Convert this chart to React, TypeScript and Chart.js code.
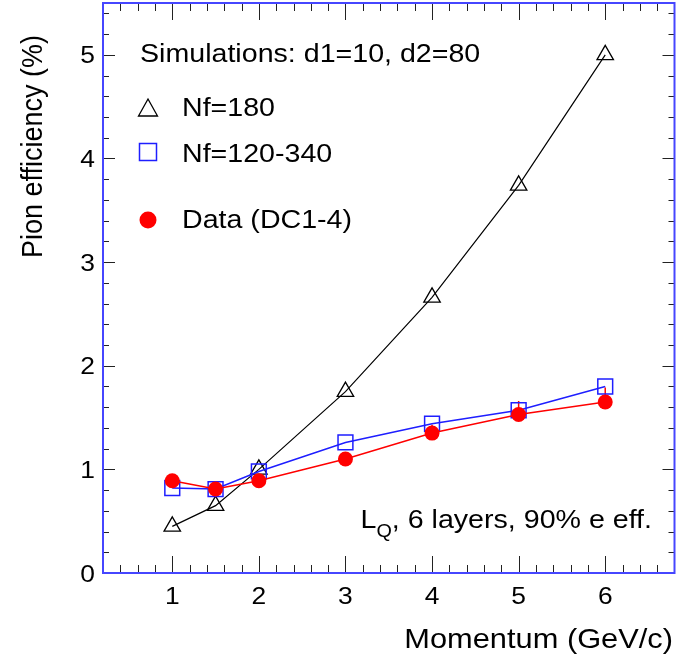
import { useEffect, useRef } from 'react';
import { Chart, registerables } from 'chart.js';

Chart.register(...registerables);

// ---- data ----
const momentum = [1, 1.5, 2, 3, 4, 5, 6];
const simNf180 = [0.45, 0.65, 1.0, 1.75, 2.66, 3.74, 5.0];
const simNf120340 = [0.82, 0.81, 0.98, 1.26, 1.44, 1.57, 1.8];
const dataDC14 = [0.89, 0.81, 0.89, 1.1, 1.35, 1.53, 1.65];
const dataDC14ErrUp = [0.03, 0.03, 0.03, 0.05, 0.08, 0.13, 0.14];
const dataDC14ErrDown = [0.03, 0.03, 0.03, 0.04, 0.05, 0.06, 0.06];

const xTickValues = [1, 2, 3, 4, 5, 6];
const xTickLabels = ['1', '2', '3', '4', '5', '6'];
const yTickValues = [0, 1, 2, 3, 4, 5];
const yTickLabels = ['0', '1', '2', '3', '4', '5'];

const seriesLabels = ['Nf=180', 'Nf=120-340', 'Data (DC1-4)'];
const headerText = 'Simulations: d1=10, d2=80';
const xTitle = 'Momentum (GeV/c)';
const yTitle = 'Pion efficiency (%)';

const FONT = '"Liberation Sans", Arial, Helvetica, sans-serif';
const SX = 1.1;
const FRAME = 'rgb(70,70,255)';
const BLUE = 'rgb(30,30,255)';
const RED = 'rgb(255,0,0)';

function txt(ctx: CanvasRenderingContext2D, s: string, x: number, y: number, size: number,
  align: CanvasTextAlign = 'left', baseline: CanvasTextBaseline = 'alphabetic', sx = SX) {
  ctx.save();
  ctx.translate(x, y);
  ctx.scale(sx, 1);
  ctx.font = `${size}px ${FONT}`;
  ctx.textAlign = align;
  ctx.textBaseline = baseline;
  ctx.fillStyle = '#000';
  ctx.fillText(s, 0, 0);
  ctx.restore();
}

function measure(ctx: CanvasRenderingContext2D, s: string, size: number, sx = SX) {
  ctx.save();
  ctx.font = `${size}px ${FONT}`;
  const w = ctx.measureText(s).width * sx;
  ctx.restore();
  return w;
}

const errorBarPlugin = {
  id: 'errorBars',
  beforeDatasetsDraw(chart: any) {
    const ctx = chart.ctx as CanvasRenderingContext2D;
    const xs = chart.scales.x;
    const ys = chart.scales.y;
    ctx.save();
    ctx.strokeStyle = RED;
    ctx.lineWidth = 1.5;
    momentum.forEach((m, i) => {
      const px = xs.getPixelForValue(m);
      ctx.beginPath();
      ctx.moveTo(px, ys.getPixelForValue(dataDC14[i] - dataDC14ErrDown[i]));
      ctx.lineTo(px, ys.getPixelForValue(dataDC14[i] + dataDC14ErrUp[i]));
      ctx.stroke();
    });
    ctx.restore();
  },
};

const framePlugin = {
  id: 'rootFrame',
  afterDraw(chart: any) {
    const ctx = chart.ctx as CanvasRenderingContext2D;
    const { left, right, top, bottom } = chart.chartArea;
    const xs = chart.scales.x;
    const ys = chart.scales.y;
    ctx.save();

    // ticks
    ctx.strokeStyle = '#222';
    ctx.lineWidth = 1;
    ctx.beginPath();
    for (let k = 1; k <= 33; k++) {
      const v = 0.2 * k;
      if (v > 6.79) break;
      const px = Math.round(xs.getPixelForValue(v)) + 0.5;
      const major = Math.abs(v - Math.round(v)) < 1e-6;
      const len = major ? 17 : 8;
      ctx.moveTo(px, bottom);
      ctx.lineTo(px, bottom - len);
      ctx.moveTo(px, top);
      ctx.lineTo(px, top + len);
    }
    for (let k = 1; k <= 27; k++) {
      const v = 0.2 * k;
      if (v > 5.49) break;
      const py = Math.round(ys.getPixelForValue(v)) + 0.5;
      const major = Math.abs(v - Math.round(v)) < 1e-6;
      const len = major ? 12 : 6;
      ctx.moveTo(left, py);
      ctx.lineTo(left + len, py);
      ctx.moveTo(right, py);
      ctx.lineTo(right - len, py);
    }
    ctx.stroke();

    // frame
    ctx.strokeStyle = FRAME;
    ctx.lineWidth = 2;
    ctx.strokeRect(left, top, right - left, bottom - top);

    // tick labels
    xTickValues.forEach((v, i) => {
      txt(ctx, xTickLabels[i], xs.getPixelForValue(v), 604, 24, 'center');
    });
    yTickValues.forEach((v, i) => {
      txt(ctx, yTickLabels[i], 95, ys.getPixelForValue(v) + 2, 24, 'right', 'middle');
    });

    // axis titles
    txt(ctx, xTitle, 673, 648, 28, 'right');
    ctx.save();
    ctx.translate(42, 258);
    ctx.rotate(-Math.PI / 2);
    ctx.scale(1, 1.1);
    ctx.font = `27px ${FONT}`;
    ctx.fillStyle = '#000';
    ctx.textAlign = 'left';
    ctx.textBaseline = 'alphabetic';
    ctx.fillText(yTitle, 0, 0);
    ctx.restore();

    // header + legend
    txt(ctx, headerText, 140, 62, 26);
    ctx.strokeStyle = '#000';
    ctx.lineWidth = 1.3;
    ctx.beginPath();
    ctx.moveTo(148, 99);
    ctx.lineTo(157.5, 116);
    ctx.lineTo(138.5, 116);
    ctx.closePath();
    ctx.stroke();
    txt(ctx, seriesLabels[0], 182, 116, 26);
    ctx.strokeStyle = BLUE;
    ctx.lineWidth = 1.5;
    ctx.strokeRect(139.5, 143.5, 17, 17);
    txt(ctx, seriesLabels[1], 182, 162, 26);
    ctx.fillStyle = RED;
    ctx.beginPath();
    ctx.arc(148, 220, 8.5, 0, Math.PI * 2);
    ctx.fill();
    txt(ctx, seriesLabels[2], 182, 228, 26);

    // L_Q annotation
    const rest = ', 6 layers, 90% e eff.';
    const restW = measure(ctx, rest, 26);
    const qW = measure(ctx, 'Q', 18);
    const lW = measure(ctx, 'L', 26);
    const restX = 652 - restW;
    txt(ctx, rest, restX, 528, 26);
    txt(ctx, 'Q', restX - qW, 537, 18);
    txt(ctx, 'L', restX - qW - lW, 528, 26);

    ctx.restore();
  },
};

export default function App() {
  const ref = useRef<HTMLCanvasElement | null>(null);
  useEffect(() => {
    if (!ref.current) return;
    const chart = new Chart(ref.current, {
      type: 'line',
      data: {
        datasets: [
          {
            label: seriesLabels[2],
            data: momentum.map((m, i) => ({ x: m, y: dataDC14[i] })),
            borderColor: RED,
            backgroundColor: RED,
            borderWidth: 1.5,
            pointStyle: 'circle',
            pointRadius: 7.5,
            pointBorderWidth: 0,
            pointBackgroundColor: RED,
            tension: 0,
          },
          {
            label: seriesLabels[1],
            data: momentum.map((m, i) => ({ x: m, y: simNf120340[i] })),
            borderColor: BLUE,
            backgroundColor: 'rgba(0,0,0,0)',
            borderWidth: 1.5,
            pointStyle: 'rect',
            pointRadius: 10.5,
            pointBorderWidth: 1.5,
            pointBorderColor: BLUE,
            pointBackgroundColor: 'rgba(0,0,0,0)',
            tension: 0,
          },
          {
            label: seriesLabels[0],
            data: momentum.map((m, i) => ({ x: m, y: simNf180[i] })),
            borderColor: '#000',
            backgroundColor: 'rgba(0,0,0,0)',
            borderWidth: 1.2,
            pointStyle: 'triangle',
            pointRadius: 9.5,
            pointBorderWidth: 1.3,
            pointBorderColor: '#000',
            pointBackgroundColor: 'rgba(0,0,0,0)',
            tension: 0,
          },
        ],
      },
      options: {
        animation: false,
        responsive: false,
        devicePixelRatio: 1,
        layout: { autoPadding: false, padding: { left: 103, right: 24.5, top: 3, bottom: 89 } },
        scales: {
          x: { type: 'linear', min: 0.2, max: 6.8, display: false },
          y: { type: 'linear', min: 0, max: 5.5, display: false },
        },
        plugins: { legend: { display: false }, tooltip: { enabled: false } },
      },
      plugins: [errorBarPlugin, framePlugin],
    });
    return () => chart.destroy();
  }, []);
  return (
    <div style={{ position: 'fixed', left: 0, top: 0, width: 699, height: 662, background: '#fff' }}>
      <canvas ref={ref} width={699} height={662} style={{ width: 699, height: 662, display: 'block' }} />
    </div>
  );
}
